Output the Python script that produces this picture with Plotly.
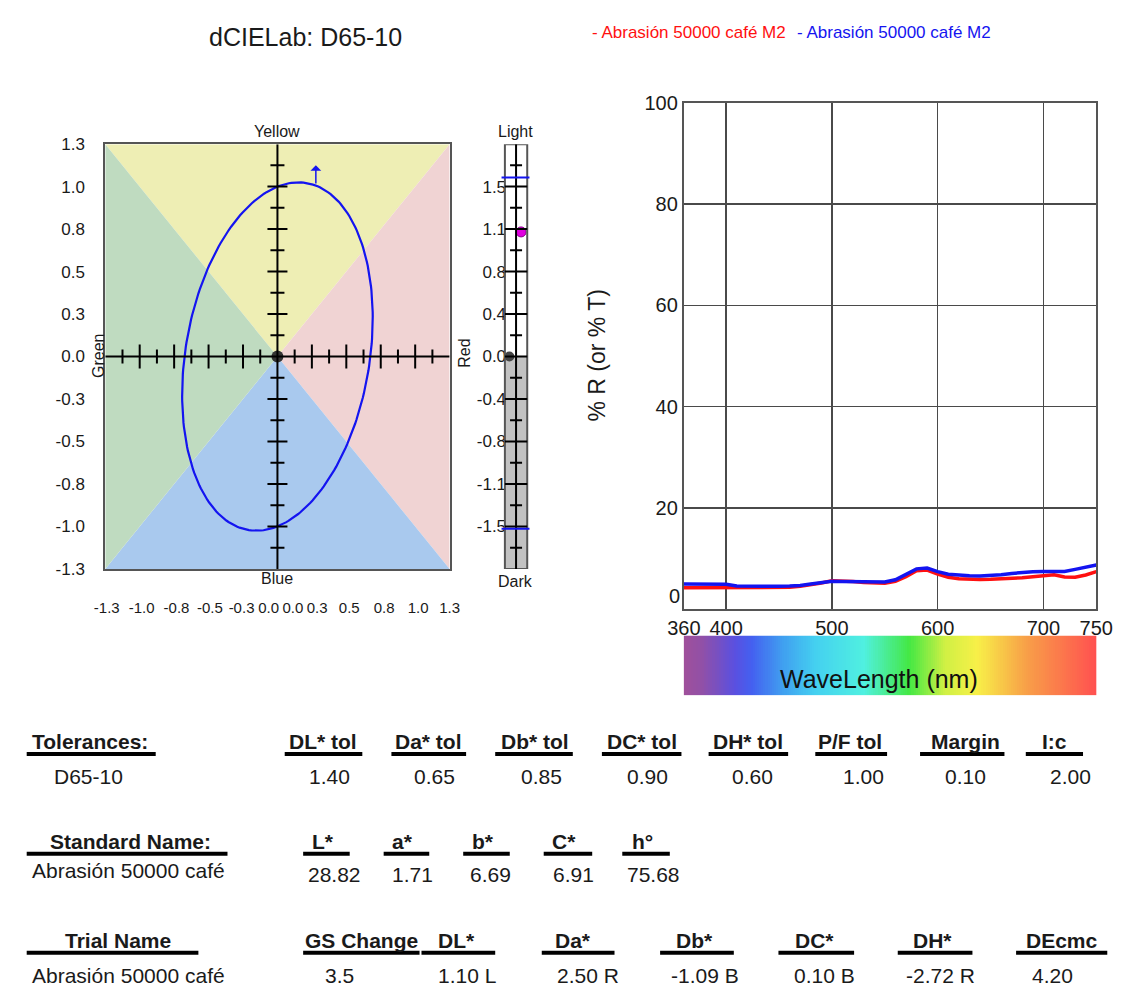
import numpy as np
import plotly.graph_objects as go

W, H = 1133, 994

# ---------------- data ----------------
TITLE = "dCIELab: D65-10"
SERIES_NAMES = ["- Abrasión 50000 café M2", "- Abrasión 50000 café M2"]

# a*b* difference plot
AB_X_TICK_VALUES = [-1.289, -1.026, -0.762, -0.51, -0.271, -0.066, 0.117, 0.30, 0.542, 0.806, 1.062, 1.3]
AB_X_TICK_LABELS = ["-1.3", "-1.0", "-0.8", "-0.5", "-0.3", "0.0", "0.0", "0.3", "0.5", "0.8", "1.0", "1.3"]
AB_Y_TICK_VALUES = [1.3, 1.04, 0.78, 0.52, 0.26, 0.0, -0.26, -0.52, -0.78, -1.04, -1.3]
AB_Y_TICK_LABELS = ["1.3", "1.0", "0.8", "0.5", "0.3", "0.0", "-0.3", "-0.5", "-0.8", "-1.0", "-1.3"]
ELLIPSE_SEMI_CHROMA = 1.086
ELLIPSE_SEMI_HUE = 0.689
HUE_ANGLE_DEG = 75.68
ARROW_A = 0.29
ARROW_B_FROM = 1.05
ARROW_B_TO = 1.17

# Lightness bar
L_TICK_VALUES = [1.5, 1.125, 0.75, 0.375, 0.0, -0.375, -0.75, -1.125, -1.5]
L_TICK_LABELS = ["1.5", "1.1", "0.8", "0.4", "0.0", "-0.4", "-0.8", "-1.1", "-1.5"]
L_TOL_UP = 1.58
L_TOL_DOWN = -1.52
DL_TRIAL = 1.10

# Spectral reflectance
WAVELENGTHS = [360, 370, 380, 390, 400, 410, 420, 430, 440, 450,
               460, 470, 480, 490, 500, 510, 520, 530, 540, 550,
               560, 570, 580, 590, 600, 610, 620, 630, 640, 650,
               660, 670, 680, 690, 700, 710, 720, 730, 740, 750]
REFL_RED = [4.2, 4.2, 4.2, 4.2, 4.2, 4.2, 4.15, 4.15, 4.2, 4.2,
            4.3, 4.5, 4.8, 5.15, 5.6, 5.55, 5.45, 5.25, 5.1, 5.1,
            5.5, 6.4, 7.6, 7.7, 6.9, 6.3, 6.0, 5.9, 5.85, 5.9,
            5.95, 6.05, 6.2, 6.4, 6.55, 6.8, 6.35, 6.3, 6.75, 7.4]
REFL_BLUE = [4.97, 4.97, 4.97, 4.95, 4.9, 4.55, 4.5, 4.5, 4.5, 4.5,
             4.55, 4.65, 4.95, 5.3, 5.5, 5.45, 5.4, 5.3, 5.25, 5.35,
             5.8, 6.8, 7.95, 8.1, 7.4, 6.9, 6.7, 6.6, 6.55, 6.6,
             6.8, 7.05, 7.25, 7.4, 7.45, 7.4, 7.45, 7.85, 8.3, 8.7]
SPEC_X_TICKS = [360, 400, 500, 600, 700, 750]
SPEC_Y_TICKS = [20, 40, 60, 80, 100]
SPECTRUM_BAND = list(range(360, 751, 2))

# Tables
TOL_NAME = "D65-10"
TOL_HEADERS = ["DL* tol", "Da* tol", "Db* tol", "DC* tol", "DH* tol", "P/F tol", "Margin", "I:c"]
TOL_VALUES = ["1.40", "0.65", "0.85", "0.90", "0.60", "1.00", "0.10", "2.00"]
STD_NAME = "Abrasión 50000 café"
STD_HEADERS = ["L*", "a*", "b*", "C*", "h°"]
STD_VALUES = ["28.82", "1.71", "6.69", "6.91", "75.68"]
TRIAL_NAME = "Abrasión 50000 café"
TRIAL_HEADERS = ["GS Change", "DL*", "Da*", "Db*", "DC*", "DH*", "DEcmc"]
TRIAL_VALUES = ["3.5", "1.10 L", "2.50 R", "-1.09 B", "0.10 B", "-2.72 R", "4.20"]

# ---------------- layout constants (pixels) ----------------
REG = "Liberation Sans, Arial, Helvetica, sans-serif"
TXT = "#1a1a1a"
RED = "#FF1010"
BLUE = "#1414F0"


def px_x(p):
    return p / W


def px_y(p):
    return 1 - p / H


AB_DOM_X = [px_x(91), px_x(446)]
AB_DOM_Y = [px_y(570), px_y(136)]
L_DOM_X = [px_x(497), px_x(532)]
SP_DOM_X = [px_x(687.5), px_x(1112.7)]
SP_DOM_Y = [px_y(611), px_y(94)]
CB_DOM_Y = [px_y(699), px_y(638)]

fig = go.Figure()
shapes = []
ann = []

# ---------- a*b* plot ----------
R = 1.3
tri = [
    ("M -1.3,1.3 L 1.3,1.3 L 0,0 Z", "rgb(238,238,180)"),
    ("M 1.3,1.3 L 1.3,-1.3 L 0,0 Z", "rgb(240,211,211)"),
    ("M 1.3,-1.3 L -1.3,-1.3 L 0,0 Z", "rgb(169,201,238)"),
    ("M -1.3,-1.3 L -1.3,1.3 L 0,0 Z", "rgb(191,219,192)"),
]
for path, col in tri:
    shapes.append(dict(type="path", path=path, xref="x", yref="y", fillcolor=col,
                       line=dict(width=0), layer="below"))

shapes.append(dict(type="line", xref="x", yref="y", x0=0, x1=0, y0=-R, y1=R,
                   line=dict(color="black", width=2), layer="above"))
shapes.append(dict(type="line", xref="x", yref="y", x0=-R, x1=R, y0=0, y1=0,
                   line=dict(color="black", width=2), layer="above"))
for k in range(-9, 10):
    if k == 0:
        continue
    v = k * 0.13
    long_ = (k % 2 == 0)
    hl = 10 if long_ else 7
    shapes.append(dict(type="line", xref="x", yref="y", xsizemode="pixel", xanchor=0,
                       x0=-hl, x1=hl, y0=v, y1=v, line=dict(color="black", width=2), layer="above"))
    vl = 12 if long_ else 7
    shapes.append(dict(type="line", xref="x", yref="y", ysizemode="pixel", yanchor=0,
                       y0=-vl, y1=vl, x0=v, x1=v, line=dict(color="black", width=2), layer="above"))

th = np.deg2rad(HUE_ANGLE_DEG)
t = np.linspace(0, 2 * np.pi, 241)
ex = ELLIPSE_SEMI_CHROMA * np.cos(t) * np.cos(th) - ELLIPSE_SEMI_HUE * np.sin(t) * np.sin(th)
ey = ELLIPSE_SEMI_CHROMA * np.cos(t) * np.sin(th) + ELLIPSE_SEMI_HUE * np.sin(t) * np.cos(th)
fig.add_trace(go.Scatter(x=ex, y=ey, mode="lines", line=dict(color=BLUE, width=2.2),
                         xaxis="x", yaxis="y", hoverinfo="skip", showlegend=False))
fig.add_trace(go.Scatter(x=[0], y=[0], mode="markers",
                         marker=dict(size=12, color="#333333"),
                         xaxis="x", yaxis="y", hoverinfo="skip", showlegend=False))
ann.append(dict(x=ARROW_A, y=ARROW_B_TO, ax=ARROW_A, ay=ARROW_B_FROM, xref="x", yref="y",
                axref="x", ayref="y", text="", showarrow=True, arrowhead=1,
                arrowsize=1.2, arrowwidth=1.5, arrowcolor=BLUE))

# ---------- Lightness bar ----------
shapes.append(dict(type="rect", xref="x2", yref="y2", x0=-1, x1=1, y0=-1.875, y1=1.875,
                   fillcolor="white", line=dict(width=0), layer="below"))
shapes.append(dict(type="rect", xref="x2", yref="y2", x0=-1, x1=1, y0=-1.875, y1=0,
                   fillcolor="#C2C2C2", line=dict(width=0), layer="below"))
shapes.append(dict(type="rect", xref="x2", yref="y2", x0=-1, x1=1, y0=-1.875, y1=1.875,
                   fillcolor="rgba(0,0,0,0)", line=dict(color="#555555", width=2), layer="above"))
shapes.append(dict(type="line", xref="x2", yref="y2", x0=0, x1=0, y0=-1.875, y1=1.875,
                   line=dict(color="black", width=2), layer="above"))
for k in range(-4, 5):
    v = k * 0.375
    shapes.append(dict(type="line", xref="x2", yref="y2", x0=-1, x1=1, y0=v, y1=v,
                       line=dict(color="black", width=2), layer="above"))
for k in range(-5, 5):
    v = (k + 0.5) * 0.375
    shapes.append(dict(type="line", xref="x2", yref="y2", xsizemode="pixel", xanchor=0,
                       x0=-6, x1=6, y0=v, y1=v, line=dict(color="black", width=2), layer="above"))
for v in (L_TOL_UP, L_TOL_DOWN):
    shapes.append(dict(type="line", xref="x2", yref="y2", x0=-1.3, x1=1.2, y0=v, y1=v,
                       line=dict(color=BLUE, width=2), layer="above"))
fig.add_trace(go.Scatter(x=[-0.6], y=[0.0], mode="markers",
                         marker=dict(size=10, color="#444444"), cliponaxis=False,
                         xaxis="x2", yaxis="y2", hoverinfo="skip", showlegend=False))
fig.add_trace(go.Scatter(x=[0.45], y=[DL_TRIAL], mode="markers",
                         marker=dict(size=10, color="#E000E0", line=dict(color="#8a008a", width=1)),
                         cliponaxis=False,
                         xaxis="x2", yaxis="y2", hoverinfo="skip", showlegend=False))

# ---------- Spectral plot ----------
fig.add_trace(go.Scatter(x=WAVELENGTHS, y=REFL_RED, mode="lines", line=dict(color=RED, width=3.5),
                         xaxis="x3", yaxis="y3", hoverinfo="skip", showlegend=False))
fig.add_trace(go.Scatter(x=WAVELENGTHS, y=REFL_BLUE, mode="lines", line=dict(color=BLUE, width=3.5),
                         xaxis="x3", yaxis="y3", hoverinfo="skip", showlegend=False))

spec_scale = [
    [0.0, "#A0509A"], [0.046, "#9050A8"], [0.123, "#5A50E0"], [0.164, "#4460F0"],
    [0.241, "#40A0F0"], [0.318, "#44D0F0"], [0.436, "#50F0E0"], [0.546, "#44E844"],
    [0.633, "#D0F044"], [0.71, "#F8F048"], [0.828, "#F8A048"], [1.0, "#FF5050"],
]
fig.add_trace(go.Heatmap(x=SPECTRUM_BAND, y=[0], z=[SPECTRUM_BAND], colorscale=spec_scale,
                         zmin=360, zmax=750, showscale=False, hoverinfo="skip",
                         xaxis="x4", yaxis="y4"))


# ---------- texts ----------
def label(x, y, s, size, family=REG, color=TXT, xanchor="center", angle=0, bold=False):
    ann.append(dict(x=px_x(x), y=px_y(y), xref="paper", yref="paper",
                    text=("<b>%s</b>" % s) if bold else s, showarrow=False,
                    xanchor=xanchor, yanchor="middle", textangle=angle,
                    font=dict(size=size, family=family, color=color)))


label(297, 27, TITLE, 25)
label(591, 22, SERIES_NAMES[0], 17, color=RED, xanchor="left")
label(802, 22, SERIES_NAMES[1], 17, color=BLUE, xanchor="left")

label(268, 123, "Yellow", 16)
label(268, 580, "Blue", 16)
label(84, 352, "Green", 16, angle=-90)
label(461, 350, "Red", 16, angle=-90)
label(514, 123, "Light", 16)
label(514, 583, "Dark", 16)

label(598, 352, "% R (or % T)", 23, angle=-90)
ann.append(dict(x=0.5, y=0.5, xref="x4 domain", yref="y4 domain", text="WaveLength (nm)",
                showarrow=False, xanchor="center", yanchor="middle",
                yshift=-14, xshift=-11,
                font=dict(size=25, family=REG, color="#111111")))
ann.append(dict(x=0, y=2.5, xref="x3 domain", yref="y3", text="0", showarrow=False,
                xanchor="right", yanchor="middle", xshift=-2,
                font=dict(size=20, family=REG, color=TXT)))

# tables
TBL = 21
label(13, 746, "Tolerances:", TBL, xanchor="left", bold=True)
shapes.append(dict(type="line", xref="paper", yref="paper", x0=px_x(10), x1=px_x(143),
                   y0=px_y(759), y1=px_y(759), line=dict(color="black", width=4)))
label(36, 782, TOL_NAME, TBL, xanchor="left")
tol_hx = [278, 388, 497, 606, 715, 824, 940, 1055]
tol_ul = [(276, 356), (386, 463), (493, 573), (603, 685), (713, 795), (823, 897), (931, 1018), (1040, 1099)]
tol_vx = [345, 454, 564, 673, 781, 896, 1001, 1109]
for h, v, hx, (u0, u1), vx in zip(TOL_HEADERS, TOL_VALUES, tol_hx, tol_ul, tol_vx):
    label(hx, 746, h, TBL, xanchor="left", bold=True)
    shapes.append(dict(type="line", xref="paper", yref="paper", x0=px_x(u0), x1=px_x(u1),
                       y0=px_y(759), y1=px_y(759), line=dict(color="black", width=4)))
    label(vx, 782, v, TBL, xanchor="right")

label(32, 848, "Standard Name:", TBL, xanchor="left", bold=True)
shapes.append(dict(type="line", xref="paper", yref="paper", x0=px_x(10), x1=px_x(217),
                   y0=px_y(861), y1=px_y(861), line=dict(color="black", width=4)))
label(13, 878, STD_NAME, TBL, xanchor="left")
std_hx = [302, 385, 467, 550, 632]
std_ul = [(295, 343), (378, 425), (460, 508), (543, 593), (624, 673)]
std_vx = [357, 431, 511, 597, 686]
for h, v, hx, (u0, u1), vx in zip(STD_HEADERS, STD_VALUES, std_hx, std_ul, std_vx):
    label(hx, 848, h, TBL, xanchor="left", bold=True)
    shapes.append(dict(type="line", xref="paper", yref="paper", x0=px_x(u0), x1=px_x(u1),
                       y0=px_y(861), y1=px_y(861), line=dict(color="black", width=4)))
    label(vx, 882, v, TBL, xanchor="right")

label(47, 950, "Trial Name", TBL, xanchor="left", bold=True)
shapes.append(dict(type="line", xref="paper", yref="paper", x0=px_x(10), x1=px_x(187),
                   y0=px_y(962), y1=px_y(962), line=dict(color="black", width=4)))
label(13, 985, TRIAL_NAME, TBL, xanchor="left")
tr_hx = [295, 432, 553, 677, 800, 922, 1038]
tr_ul = [(295, 415), (417, 493), (541, 616), (663, 739), (785, 863), (908, 985), (1030, 1124)]
tr_vx = [315, 432, 555, 672, 799, 914, 1044]
for h, v, hx, (u0, u1), vx in zip(TRIAL_HEADERS, TRIAL_VALUES, tr_hx, tr_ul, tr_vx):
    label(hx, 950, h, TBL, xanchor="left", bold=True)
    shapes.append(dict(type="line", xref="paper", yref="paper", x0=px_x(u0), x1=px_x(u1),
                       y0=px_y(962), y1=px_y(962), line=dict(color="black", width=4)))
    label(vx, 985, v, TBL, xanchor="left")

tick_font_ab = dict(size=17, family=REG, color=TXT)

fig.update_layout(
    width=W, height=H, margin=dict(l=0, r=0, t=0, b=0),
    paper_bgcolor="white", plot_bgcolor="white", showlegend=False,
    shapes=shapes, annotations=ann,
    xaxis=dict(domain=AB_DOM_X, range=[-1.3, 1.3], anchor="y", showgrid=False, zeroline=False,
               showline=True, mirror=True, linecolor="#555555", linewidth=2,
               tickmode="array", tickvals=AB_X_TICK_VALUES, ticktext=AB_X_TICK_LABELS,
               tickangle=0, ticks="", ticklabelstandoff=24,
               tickfont=dict(size=15, family=REG, color=TXT), fixedrange=True),
    yaxis=dict(domain=AB_DOM_Y, range=[-1.3, 1.3], anchor="x", showgrid=False, zeroline=False,
               showline=True, mirror=True, linecolor="#555555", linewidth=2,
               tickmode="array", tickvals=AB_Y_TICK_VALUES, ticktext=AB_Y_TICK_LABELS,
               ticks="", ticklabelstandoff=15, tickfont=tick_font_ab, fixedrange=True),
    xaxis2=dict(domain=L_DOM_X, range=[-1.52, 1.52], anchor="y2", showgrid=False, zeroline=False,
                showline=False, showticklabels=False, ticks="", fixedrange=True),
    yaxis2=dict(domain=AB_DOM_Y, range=[-1.875, 1.875], anchor="x2", showgrid=False, zeroline=False,
                showline=False, tickmode="array", tickvals=L_TICK_VALUES, ticktext=L_TICK_LABELS,
                ticks="", ticklabelstandoff=-8, tickfont=tick_font_ab, fixedrange=True),
    xaxis3=dict(domain=SP_DOM_X, range=[360, 750], anchor="y3", showgrid=True, gridcolor="#4a4a4a",
                gridwidth=1.5, zeroline=False, showline=True, mirror=True, linecolor="#555555",
                linewidth=2, tickmode="array", tickvals=SPEC_X_TICKS, ticks="", tickangle=0,
                tickfont=dict(size=20, family=REG, color=TXT), fixedrange=True),
    yaxis3=dict(domain=SP_DOM_Y, range=[0, 100], anchor="x3", showgrid=True, gridcolor="#4a4a4a",
                gridwidth=1.5, zeroline=False, showline=True, mirror=True, linecolor="#555555",
                linewidth=2, tickmode="array", tickvals=SPEC_Y_TICKS, ticks="",
                tickfont=dict(size=20, family=REG, color=TXT), fixedrange=True),
    xaxis4=dict(domain=SP_DOM_X, range=[360, 750], anchor="y4", visible=False, fixedrange=True),
    yaxis4=dict(domain=CB_DOM_Y, range=[-0.5, 0.5], anchor="x4", visible=False, fixedrange=True),
)

fig.write_html("out.html",
               config={"displayModeBar": False, "staticPlot": True},
               post_script="document.body.style.margin='0';document.body.style.padding='0';"
                           "document.documentElement.style.overflow='hidden';")
